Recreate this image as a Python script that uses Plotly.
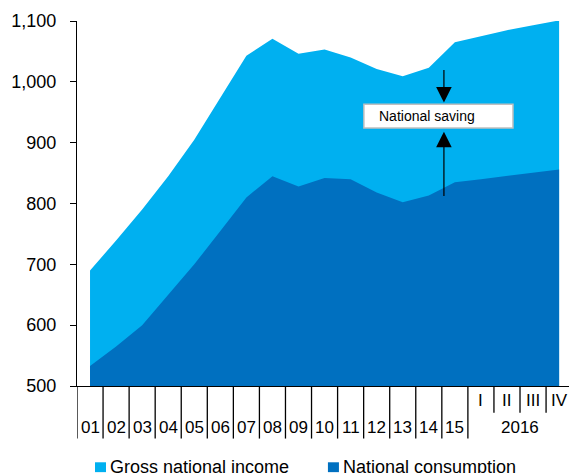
import plotly.graph_objects as go

# periods: 2001..2015 annual, then 2016 quarters
year_labels = ["01", "02", "03", "04", "05", "06", "07", "08", "09", "10", "11", "12", "13", "14", "15"]
quarter_labels = ["I", "II", "III", "IV"]
gross_national_income = [690, 739, 790, 845, 905, 975, 1043, 1071, 1046, 1053, 1040, 1021, 1009, 1023, 1065,
                         1075, 1085, 1093, 1101]
national_consumption = [533, 565, 600, 650, 700, 755, 810, 845, 828, 842, 840, 818, 802, 813, 835,
                        840, 845, 850, 856]

x = list(range(len(gross_national_income)))
light_blue = "#00B0F0"
dark_blue = "#0070C0"
font_name = "Liberation Sans, Arial, sans-serif"

fig = go.Figure()
fig.add_trace(go.Scatter(x=x, y=gross_national_income, fill="tozeroy", mode="lines",
                         line=dict(width=0, color=light_blue), fillcolor=light_blue,
                         name="Gross national income", showlegend=False, hoverinfo="skip"))
fig.add_trace(go.Scatter(x=x, y=national_consumption, fill="tozeroy", mode="lines",
                         line=dict(width=0, color=dark_blue), fillcolor=dark_blue,
                         name="National consumption", showlegend=False, hoverinfo="skip"))

shapes = []
annotations = []

def label(xv, yv, text, xref="x", size=17, xanchor="center"):
    return dict(x=xv, y=yv, xref=xref, yref="paper", text=text, showarrow=False,
                xanchor=xanchor, yanchor="middle", font=dict(size=size, color="black"))

# x-axis category labels and separators
n_years = len(year_labels)
for i, lab in enumerate(year_labels):
    annotations.append(label(i, -0.114, lab))
for k in range(n_years + 1):
    shapes.append(dict(type="line", xref="x", yref="paper", x0=k - 0.5, x1=k - 0.5, y0=0, y1=-0.144,
                       line=dict(color="black", width=1.3)))
for j, lab in enumerate(quarter_labels):
    annotations.append(label(n_years + j, -0.04, lab))
    if j > 0:
        shapes.append(dict(type="line", xref="x", yref="paper", x0=n_years + j - 0.5, x1=n_years + j - 0.5,
                           y0=0, y1=-0.073, line=dict(color="black", width=1.3)))
annotations.append(label(n_years + 1.5, -0.114, "2016"))

# National saving box + arrows
shapes.append(dict(type="rect", xref="x", yref="y", x0=10.51, x1=16.23, y0=924, y1=963,
                   fillcolor="white", line=dict(color="#BFBFBF", width=1.5)))
annotations.append(dict(x=11.0, y=943.5, xref="x", yref="y", text="National saving", showarrow=False,
                        xanchor="left", yanchor="middle", font=dict(size=14, color="black")))
annotations.append(dict(x=13.58, y=966, ax=13.58, ay=1022, xref="x", yref="y", axref="x", ayref="y",
                        text="", showarrow=True, arrowhead=2, arrowsize=2.6, arrowwidth=1.2, arrowcolor="black"))
annotations.append(dict(x=13.58, y=918, ax=13.58, ay=810, xref="x", yref="y", axref="x", ayref="y",
                        text="", showarrow=True, arrowhead=2, arrowsize=2.6, arrowwidth=1.2, arrowcolor="black"))

# legend drawn manually
legend_items = [("Gross national income", light_blue, 0.0366), ("National consumption", dark_blue, 0.510)]
for name, col, px0 in legend_items:
    shapes.append(dict(type="rect", xref="paper", yref="paper", x0=px0, x1=px0 + 0.0224, y0=-0.209, y1=-0.236,
                       fillcolor=col, line=dict(width=0)))
    annotations.append(label(px0 + 0.027, -0.222, name, xref="paper", size=18, xanchor="left"))

fig.update_layout(
    width=569, height=473,
    margin=dict(l=77, r=0, t=21, b=87, pad=0),
    plot_bgcolor="white", paper_bgcolor="white",
    font=dict(family=font_name, size=18, color="black"),
    shapes=shapes, annotations=annotations,
    showlegend=False,
)
fig.update_xaxes(range=[-0.5, 18.38], showticklabels=False, ticks="", showgrid=False, zeroline=False,
                 showline=True, linecolor="black", linewidth=1.3)
fig.update_yaxes(range=[500, 1100], tickvals=[500, 600, 700, 800, 900, 1000, 1100],
                 ticktext=["500", "600", "700", "800", "900", "1,000", "1,100"],
                 ticks="outside", ticklen=6, tickcolor="black", tickwidth=1.3, ticklabelstandoff=10,
                 showgrid=False, zeroline=False, showline=True, linecolor="black", linewidth=1.3,
                 tickfont=dict(size=18))

fig.write_html("out.html", config={"displayModeBar": False},
               post_script="document.body.style.margin='0px';")
